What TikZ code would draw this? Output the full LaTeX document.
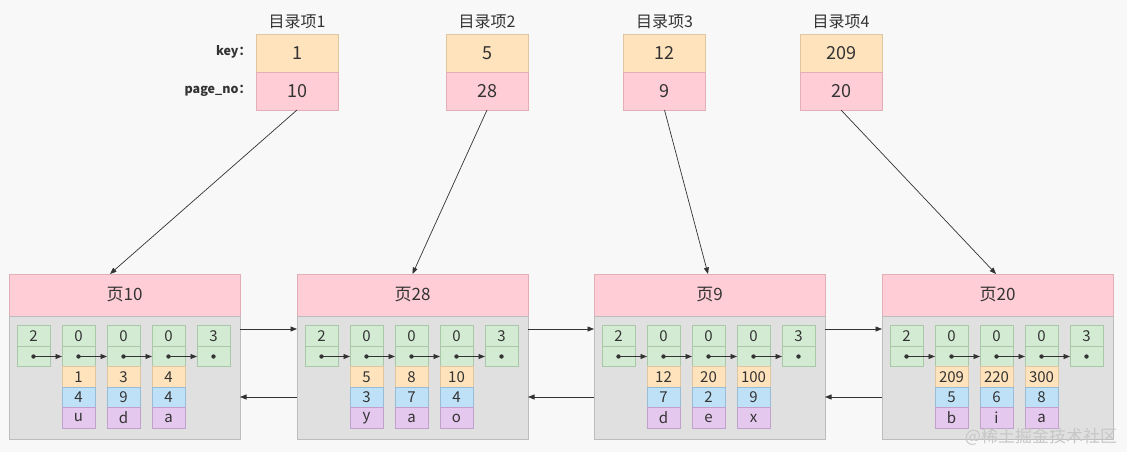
\documentclass[tikz,border=0pt]{standalone}
\usepackage{fontspec}
\setmainfont{Noto Sans CJK SC}
\usepackage{tikz}
\usetikzlibrary{calc,arrows.meta}

\definecolor{bgc}{HTML}{F8F8F8}
\definecolor{txt}{HTML}{333333}
\definecolor{orangef}{HTML}{FFE3BD}
\definecolor{orangel}{HTML}{E0C6A0}
\definecolor{pinkf}{HTML}{FFCDD5}
\definecolor{pinkl}{HTML}{E3AEB7}
\definecolor{greenf}{HTML}{D3EBD3}
\definecolor{greenl}{HTML}{A8C8A8}
\definecolor{bluef}{HTML}{BFE1F8}
\definecolor{bluel}{HTML}{98BCD6}
\definecolor{purplef}{HTML}{E5C8EE}
\definecolor{purplel}{HTML}{C1A0CB}
\definecolor{grayf}{HTML}{E0E0E0}
\definecolor{grayl}{HTML}{BDBDBD}

\begin{document}
\begin{tikzpicture}
	[x=1pt,y=-1pt,every node/.style={inner sep=0pt,outer sep=0pt,text=txt}]
	\tikzstyle{entry} = [draw,line width=0.6pt,minimum width=82pt,minimum height=38pt,font=\fontsize{18pt}{18pt}\selectfont];
	\tikzstyle{cell} = [draw,line width=0.6pt,minimum width=33pt,minimum height=20.5pt,font=\fontsize{15pt}{15pt}\selectfont];
	\tikzstyle{cgreen} = [fill=greenf,draw=greenl];
	\tikzstyle{pagehead} = [draw=pinkl,fill=pinkf,line width=0.6pt,minimum width=231pt,minimum height=42pt,font=\fontsize{17pt}{17pt}\selectfont];
	\tikzstyle{pagebody} = [draw=grayl,fill=grayf,line width=0.6pt,minimum width=231pt,minimum height=123pt];
	\tikzstyle{link} = [draw=txt,line width=0.7pt,-{Triangle[length=6.5pt,width=5pt]}];

	\fill[bgc] (0,0) rectangle (1127,452);
	\useasboundingbox (0,0) rectangle (1127,452);

	% directory entries
	\foreach \i/\x/\k/\p in {1/297/1/10,2/487/5/28,3/664.5/12/9,4/841/209/20}{
		\node[font=\fontsize{16pt}{16pt}\selectfont] (t\i) at (\x,22) {目录项\i};
		\node[entry,fill=orangef,draw=orangel] (k\i) at (\x,53) {\k};
		\node[entry,fill=pinkf,draw=pinkl] (n\i) at (\x,91) {\p};
	}
	\node[anchor=east,font=\bfseries\fontsize{12.5pt}{12.5pt}\selectfont] (keylab) at (251,52) {key：};
	\node[anchor=east,font=\bfseries\fontsize{12.5pt}{12.5pt}\selectfont] (pnlab) at (251,91) {page\_no：};

	% pages
	\foreach \i/\L/\n/\data in {1/9/10/{1/4/u,3/9/d,4/4/a},2/297/28/{5/3/y,8/7/a,10/4/o},3/594/9/{12/7/d,20/2/e,100/9/x},4/882/20/{209/5/b,220/6/i,300/8/a}}{
		\node[pagehead] (h\i) at (\L+115.5,295) {页\n};
		\node[pagebody] (b\i) at (\L+115.5,377.5) {};
		\foreach \j/\t in {0/2,1/0,2/0,3/0,4/3}{
			\node[cell,cgreen] (r\i-\j-a) at (\L+24.5+45*\j,336) {\t};
			\node[cell,cgreen] (r\i-\j-b) at (\L+24.5+45*\j,356.5) {};
		}
		\foreach \o/\v/\c [count=\j] in \data{
			\node[cell,fill=orangef,draw=orangel] (r\i-\j-c) at (\L+24.5+45*\j,377) {\o};
			\node[cell,fill=bluef,draw=bluel] (r\i-\j-d) at (\L+24.5+45*\j,397.5) {\v};
			\node[cell,fill=purplef,draw=purplel] (r\i-\j-e) at (\L+24.5+45*\j,418) {\c};
		}
		\foreach \j/\k in {0/1,1/2,2/3,3/4}{
			\draw[link] (r\i-\j-b.center) -- (r\i-\k-b.west);
		}
		\foreach \j in {0,...,4}{
			\fill[txt] (r\i-\j-b.center) circle (2.2pt);
		}
	}

	% page links
	\foreach \i/\k in {1/2,2/3,3/4}{
		\draw[link] ($(b\i.north east)+(0,13)$) -- ($(b\k.north west)+(0,13)$);
		\draw[link] ($(b\k.south west)+(0,-42)$) -- ($(b\i.south east)+(0,-42)$);
	}

	% entries to pages
	\draw[link] (n1.south) -- ($(h1.north)+(-14.5,0)$);
	\draw[link] (n2.south) -- (h2.north);
	\draw[link] (n3.south) -- ($(h3.north)+(-1.5,0)$);
	\draw[link] (n4.south) -- ($(h4.north)+(-1.5,0)$);

	\node[font=\fontsize{17pt}{17pt}\selectfont,text=black!22] (wm) at (1041,437) {@稀土掘金技术社区};
\end{tikzpicture}
\end{document}
